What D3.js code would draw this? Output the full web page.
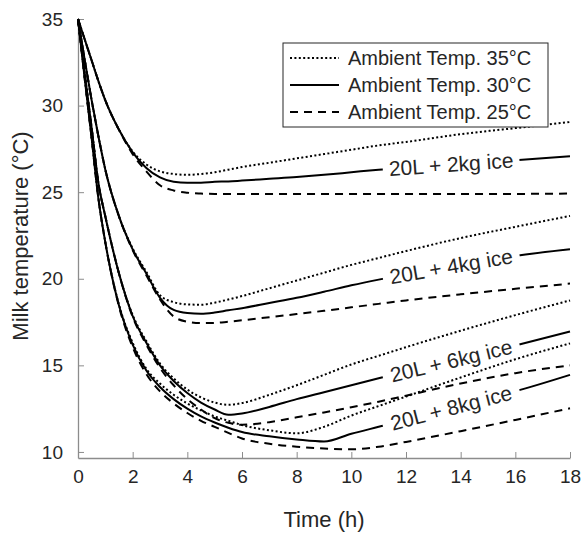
<html>
<head>
<style>
body { margin:0; background:#ffffff; }
svg text { font-family:"Liberation Sans", Arial, sans-serif; fill:#262626; }
.axis path, .axis line { stroke:#8c8c8c; }
</style>
<script src="https://d3js.org/d3.v7.min.js"></script>
</head>
<body>
<svg id="chart" width="583" height="534"></svg>
<script>
// time axis shared by every curve (h)
var times = [0, 0.25, 0.5, 0.75, 1, 1.5, 2, 2.5, 3, 3.5, 4, 4.5, 5, 5.5, 6, 7, 8, 9, 10, 11, 12, 14, 16, 18];

// milk temperature (°C), 20L milk + ice, ambient 35 / 30 / 25 °C
var ice2_35 = [35, 33.8, 32.6, 31.4, 30.3, 28.6, 27.35, 26.6, 26.2, 26.05, 26.0, 26.05, 26.15, 26.3, 26.45, 26.7, 26.95, 27.2, 27.45, 27.7, 27.9, 28.35, 28.7, 29.05];
var ice2_30 = [35, 33.8, 32.6, 31.4, 30.3, 28.6, 27.3, 26.4, 25.85, 25.6, 25.55, 25.55, 25.6, 25.62, 25.67, 25.77, 25.87, 26.0, 26.15, 26.3, 26.42, 26.65, 26.85, 27.08];
var ice2_25 = [35, 33.8, 32.6, 31.4, 30.3, 28.6, 27.2, 26.2, 25.4, 25.1, 24.97, 24.92, 24.9, 24.9, 24.9, 24.9, 24.9, 24.9, 24.9, 24.9, 24.9, 24.9, 24.9, 24.92];

var ice4_35 = [35, 32.6, 30.3, 28.2, 26.3, 23.6, 21.75, 20.4, 19.05, 18.65, 18.52, 18.5, 18.62, 18.8, 19.0, 19.45, 19.9, 20.35, 20.8, 21.2, 21.6, 22.35, 23.0, 23.63];
var ice4_30 = [35, 32.6, 30.3, 28.2, 26.3, 23.6, 21.7, 20.3, 18.9, 18.2, 18.02, 17.98, 18.05, 18.18, 18.3, 18.6, 18.9, 19.25, 19.62, 19.95, 20.25, 20.82, 21.32, 21.7];
var ice4_25 = [35, 32.6, 30.3, 28.2, 26.3, 23.6, 21.65, 20.2, 18.8, 17.82, 17.52, 17.44, 17.45, 17.52, 17.6, 17.78, 17.96, 18.15, 18.35, 18.55, 18.75, 19.1, 19.42, 19.72];

var ice6_35 = [35, 31.8, 28.7, 25.5, 23.6, 20.3, 17.9, 16.4, 15.1, 14.25, 13.6, 13.15, 12.85, 12.72, 12.82, 13.3, 13.85, 14.45, 15.05, 15.55, 16.05, 17.0, 17.9, 18.75];
var ice6_30 = [35, 31.8, 28.7, 25.5, 23.6, 20.3, 17.85, 16.3, 15.0, 14.1, 13.4, 12.85, 12.45, 12.15, 12.22, 12.6, 13.05, 13.45, 13.85, 14.25, 14.65, 15.4, 16.15, 16.95];
var ice6_25 = [35, 31.8, 28.7, 25.5, 23.6, 20.3, 17.8, 16.2, 14.85, 13.85, 13.05, 12.45, 11.95, 11.68, 11.57, 11.72, 12.0, 12.28, 12.58, 12.9, 13.25, 13.95, 14.55, 15.0];

var ice8_35 = [35, 31.5, 28.1, 24.6, 22.1, 18.5, 16.3, 14.8, 13.95, 13.3, 12.8, 12.4, 12.05, 11.8, 11.55, 11.25, 11.08, 11.45, 12.1, 12.65, 13.2, 14.3, 15.35, 16.27];
var ice8_30 = [35, 31.5, 28.1, 24.6, 22.1, 18.45, 16.2, 14.7, 13.75, 13.05, 12.5, 12.05, 11.7, 11.4, 11.15, 10.9, 10.72, 10.6, 11.05, 11.45, 11.85, 12.7, 13.5, 14.45];
var ice8_25 = [35, 31.5, 28.1, 24.6, 22.1, 18.4, 16.05, 14.5, 13.5, 12.8, 12.25, 11.8, 11.45, 11.1, 10.78, 10.47, 10.3, 10.2, 10.15, 10.3, 10.58, 11.2, 11.85, 12.52];

var ambientLabels = ["Ambient Temp. 35°C", "Ambient Temp. 30°C", "Ambient Temp. 25°C"];
var iceLabels = ["20L + 2kg ice", "20L + 4kg ice", "20L + 6kg ice", "20L + 8kg ice"];
var groups = [[ice2_35, ice2_30, ice2_25], [ice4_35, ice4_30, ice4_25], [ice6_35, ice6_30, ice6_25], [ice8_35, ice8_30, ice8_25]];
var xTicks = [0, 2, 4, 6, 8, 10, 12, 14, 16, 18];
var yTicks = [10, 15, 20, 25, 30, 35];
var labelGap = [11.15, 16.15]; // time span of the label cut in the solid lines

var dashes = ["2,2.4", null, "8,6"];

var svg = d3.select("#chart");
var x = d3.scaleLinear().domain([0, 18]).range([78, 570]);
var y = d3.scaleLinear().domain([9.65, 35]).range([458, 19]);

var line = d3.line().x(function(d, i) { return x(times[i]); }).y(function(d) { return y(d); }).curve(d3.curveMonotoneX);

//Axes
var xAxis = d3.axisBottom(x).tickValues(xTicks).tickSizeInner(-6).tickSizeOuter(0).tickPadding(12).tickFormat(d3.format("d"));
var yAxis = d3.axisLeft(y).tickValues(yTicks).tickSizeInner(-6).tickSizeOuter(0).tickPadding(15).tickFormat(d3.format("d"));
var gx = svg.append("g").attr("class", "axis").attr("transform", "translate(0,458)").call(xAxis);
var gy = svg.append("g").attr("class", "axis").attr("transform", "translate(78,0)").call(yAxis);
svg.selectAll(".axis text").style("font-size", "19px").attr("fill", "#262626");
svg.selectAll(".axis .domain").attr("stroke-width", 1.3);

svg.append("text").text("Time (h)").attr("x", 324).attr("y", 527).attr("text-anchor", "middle").style("font-size", "22px");
svg.append("text").text("Milk temperature (°C)").attr("transform", "translate(28,236)rotate(-90)").attr("text-anchor", "middle").style("font-size", "22px");

var defs = svg.append("defs");
var curves = svg.append("g");

function pointAtX(node, px) {
	var lo = 0, hi = node.getTotalLength();
	for (var k = 0; k < 40; k++) {
		var mid = (lo + hi) / 2;
		if (node.getPointAtLength(mid).x < px) lo = mid; else hi = mid;
	}
	return node.getPointAtLength((lo + hi) / 2);
}

groups.forEach(function(g, gi) {
	g.forEach(function(vals, si) {
		var p = curves.append("path").datum(vals).attr("d", line)
			.attr("fill", "none").attr("stroke", "#000").attr("stroke-width", 2);
		if (dashes[si]) p.attr("stroke-dasharray", dashes[si]);
		if (si == 1) {
			var node = p.node();
			var a = pointAtX(node, x(labelGap[0])), b = pointAtX(node, x(labelGap[1]));
			var angle = Math.atan2(b.y - a.y, b.x - a.x) * 180 / Math.PI;
			var c = pointAtX(node, (a.x + b.x) / 2);
			var len = Math.hypot(b.x - a.x, b.y - a.y);
			var mask = defs.append("mask").attr("id", "gap" + gi).attr("maskUnits", "userSpaceOnUse")
				.attr("x", 0).attr("y", 0).attr("width", 583).attr("height", 534);
			mask.append("rect").attr("width", 583).attr("height", 534).attr("fill", "#fff");
			mask.append("rect").attr("x", -len / 2).attr("y", -10).attr("width", len).attr("height", 20)
				.attr("fill", "#000").attr("transform", "translate(" + c.x + "," + c.y + ")rotate(" + angle + ")");
			p.attr("mask", "url(#gap" + gi + ")");
			svg.append("text").text(iceLabels[gi]).attr("text-anchor", "middle").attr("dominant-baseline", "central")
				.attr("transform", "translate(" + c.x + "," + c.y + ")rotate(" + angle + ")")
				.style("font-size", "21px").attr("fill", "#000");
		}
	});
});

// Legend
var legend = svg.append("g").attr("transform", "translate(283,43)");
legend.append("rect").attr("width", 265).attr("height", 84).attr("fill", "#fff").attr("stroke", "#262626").attr("stroke-width", 1);
ambientLabels.forEach(function(t, i) {
	var ry = 15 + i * 27;
	var l = legend.append("line").attr("x1", 7).attr("x2", 56).attr("y1", ry).attr("y2", ry)
		.attr("stroke", "#000").attr("stroke-width", 2);
	if (dashes[i]) l.attr("stroke-dasharray", dashes[i]);
	legend.append("text").text(t).attr("x", 65).attr("y", ry).attr("dominant-baseline", "central")
		.style("font-size", "20px").attr("fill", "#000");
});
</script>
</body>
</html>
